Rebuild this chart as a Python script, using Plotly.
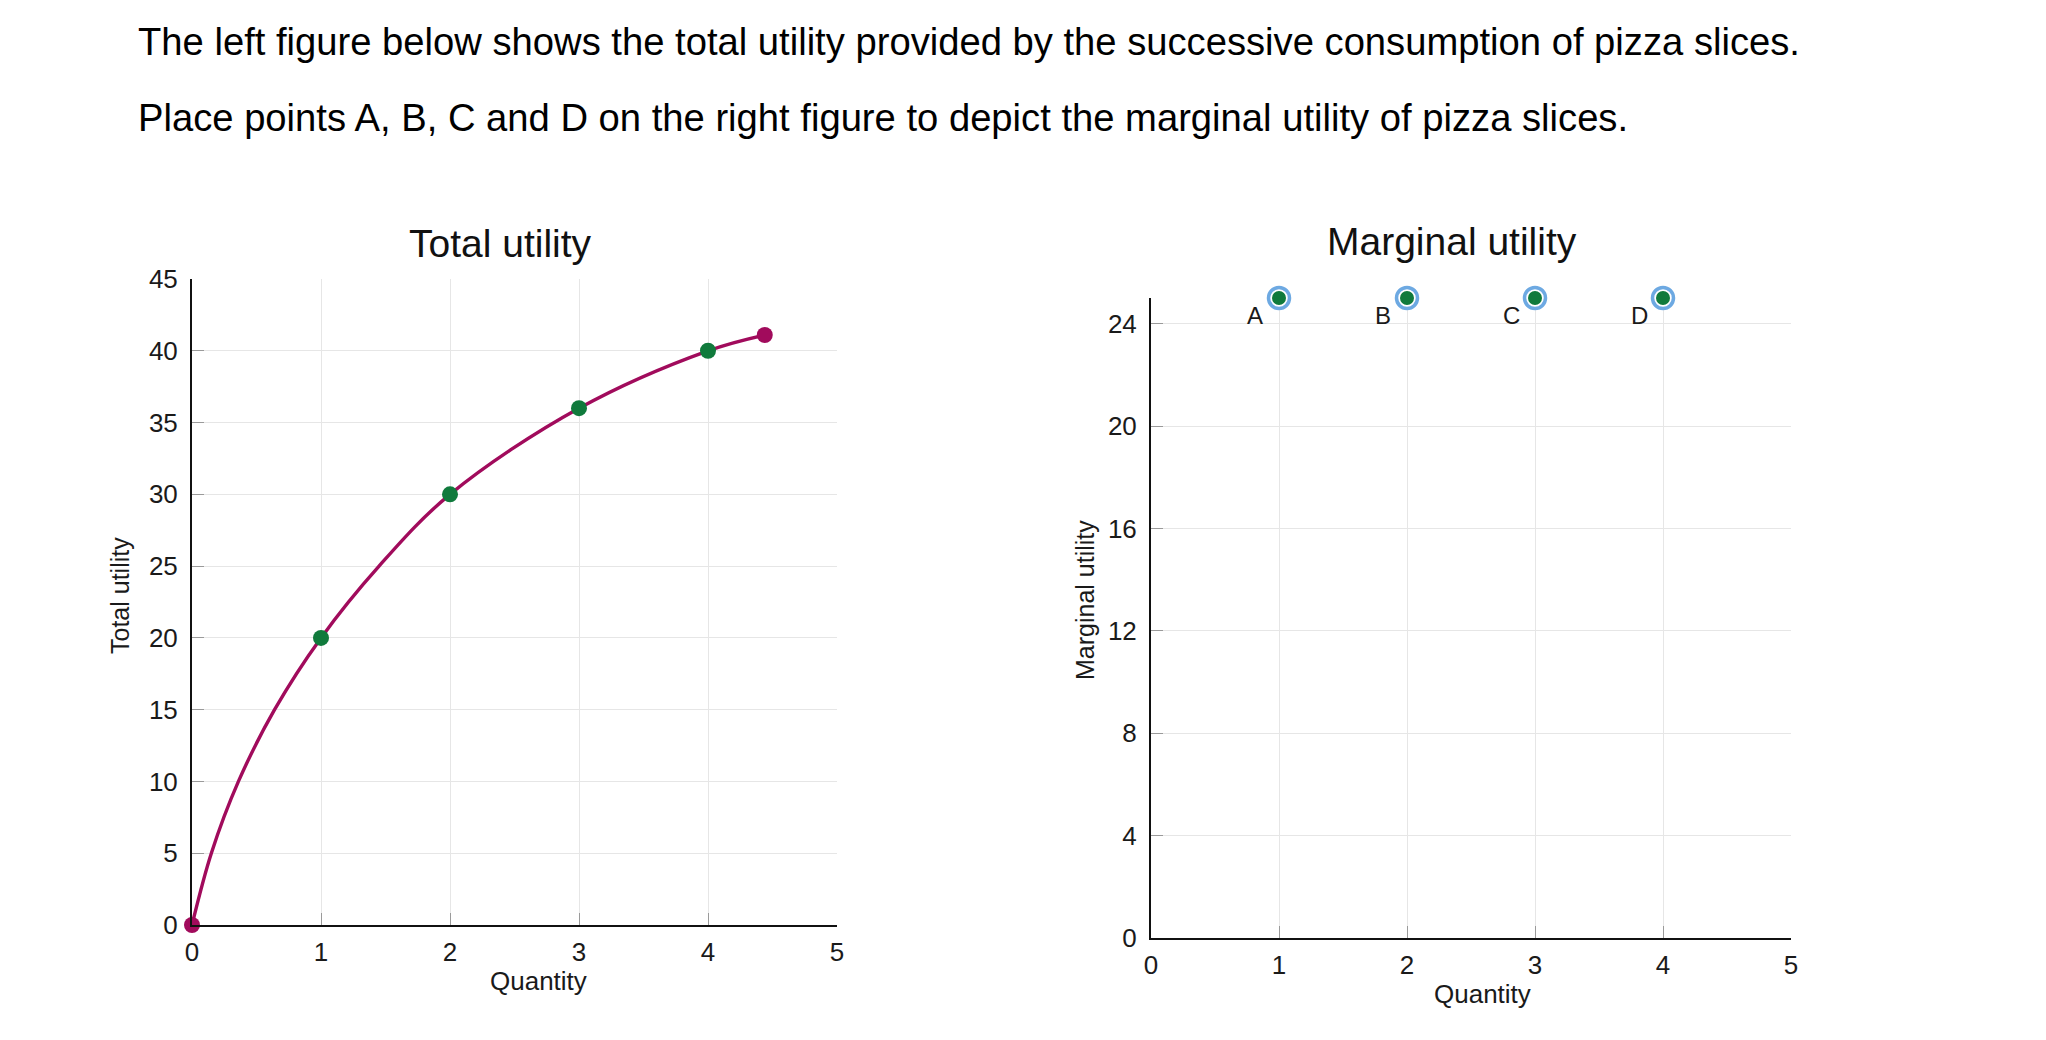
import plotly.graph_objects as go

# ---------------- data ----------------
# Total utility curve
curve_q = [0, 0.15, 0.36, 0.64, 1, 1.45, 2, 3, 4, 4.44]
curve_tu = [0, 5, 10, 15, 20, 25, 30, 36, 40, 41.1]
# Marked points on the total utility curve
tu_q = [0, 1, 2, 3, 4, 4.44]
tu_vals = [0, 20, 30, 36, 40, 41.1]
# Draggable marginal-utility points (initial placement at the top)
mu_q = [1, 2, 3, 4]
mu_vals = [25, 25, 25, 25]
mu_labels = ["A", "B", "C", "D"]

left_xticks = [0, 1, 2, 3, 4, 5]
left_yticks = [0, 5, 10, 15, 20, 25, 30, 35, 40, 45]
right_xticks = [0, 1, 2, 3, 4, 5]
right_yticks = [0, 4, 8, 12, 16, 20, 24]

header_lines = [
    "The left figure below shows the total utility provided by the successive consumption of pizza slices.",
    "Place points A, B, C and D on the right figure to depict the marginal utility of pizza slices.",
]

# ---------------- styling ----------------
MAGENTA = "#A10B5C"
GREEN = "#107A3C"
RING = "#6DA9E2"
FONT = "Liberation Sans, Arial, sans-serif"

W, H = 2046, 1040


def fx(px):
    return px / W


def fy(py):
    return 1 - py / H


fig = go.Figure()

fig.add_trace(go.Scatter(
    x=curve_q, y=curve_tu, mode="lines",
    line=dict(color=MAGENTA, width=3.4, shape="spline", smoothing=1.0),
    xaxis="x", yaxis="y", hoverinfo="skip", showlegend=False, cliponaxis=False))

fig.add_trace(go.Scatter(
    x=tu_q, y=tu_vals, mode="markers",
    marker=dict(size=16, color=[MAGENTA, GREEN, GREEN, GREEN, GREEN, MAGENTA]),
    xaxis="x", yaxis="y", showlegend=False, cliponaxis=False))

fig.add_trace(go.Scatter(
    x=mu_q, y=mu_vals, mode="markers",
    marker=dict(size=21, color="white", line=dict(color=RING, width=3.5)),
    xaxis="x2", yaxis="y2", showlegend=False, cliponaxis=False))

fig.add_trace(go.Scatter(
    x=mu_q, y=mu_vals, mode="markers",
    marker=dict(size=14, color=GREEN),
    xaxis="x2", yaxis="y2", showlegend=False, cliponaxis=False))

axis_common = dict(
    showgrid=True, gridcolor="#E6E6E6", gridwidth=1, zeroline=False,
    showline=True, linecolor="#111111", linewidth=2,
    ticks="inside", ticklen=12, tickcolor="#9A9A9A", tickwidth=1,
    tickfont=dict(size=26, color="#1A1A1A", family=FONT), fixedrange=True,
    automargin=False,
)
xaxis_common = dict(axis_common, ticklabelstandoff=3)
yaxis_common = dict(axis_common, ticklabelstandoff=7)

annotations = []
for i, line in enumerate(header_lines):
    annotations.append(dict(
        text=line, xref="paper", yref="paper", x=fx(136), y=fy([42, 117][i]),
        xanchor="left", yanchor="middle", showarrow=False,
        font=dict(size=38.2, color="#000000", family=FONT)))

annotations += [
    dict(text="Total utility", xref="paper", yref="paper", x=fx(500), y=fy(243),
         xanchor="center", yanchor="middle", showarrow=False,
         font=dict(size=39, color="#111111", family=FONT)),
    dict(text="Marginal utility", xref="paper", yref="paper", x=fx(1452), y=fy(241),
         xanchor="center", yanchor="middle", showarrow=False,
         font=dict(size=39, color="#111111", family=FONT)),
    dict(text="Total utility", xref="paper", yref="paper", x=fx(120), y=fy(596),
         xanchor="center", yanchor="middle", textangle=-90, showarrow=False,
         font=dict(size=25, color="#1A1A1A", family=FONT)),
    dict(text="Marginal utility", xref="paper", yref="paper", x=fx(1085), y=fy(600),
         xanchor="center", yanchor="middle", textangle=-90, showarrow=False,
         font=dict(size=25, color="#1A1A1A", family=FONT)),
    dict(text="Quantity", xref="paper", yref="paper", x=fx(538), y=fy(981),
         xanchor="center", yanchor="middle", showarrow=False,
         font=dict(size=26, color="#1A1A1A", family=FONT)),
    dict(text="Quantity", xref="paper", yref="paper", x=fx(1482), y=fy(994),
         xanchor="center", yanchor="middle", showarrow=False,
         font=dict(size=26, color="#1A1A1A", family=FONT)),
]
for q, v, lab in zip(mu_q, mu_vals, mu_labels):
    annotations.append(dict(
        text=lab, xref="x2", yref="y2", x=q, y=v, xshift=-24, yshift=-17,
        xanchor="center", yanchor="middle", showarrow=False,
        font=dict(size=24, color="#1A1A1A", family=FONT)))

fig.update_layout(
    width=W, height=H, autosize=False,
    margin=dict(l=0, r=0, t=0, b=0, pad=0, autoexpand=False),
    paper_bgcolor="white", plot_bgcolor="white",
    font=dict(family=FONT),
    showlegend=False,
    xaxis=dict(xaxis_common, domain=[fx(192), fx(837)], range=[0, 5],
               tickvals=left_xticks, anchor="y"),
    yaxis=dict(yaxis_common, domain=[fy(925), fy(279)], range=[0, 45],
               tickvals=left_yticks, anchor="x"),
    xaxis2=dict(xaxis_common, domain=[fx(1151), fx(1791)], range=[0, 5],
                tickvals=right_xticks, anchor="y2"),
    yaxis2=dict(yaxis_common, domain=[fy(938), fy(298)], range=[0, 25],
                tickvals=right_yticks, anchor="x2"),
    annotations=annotations,
)

fig.write_html(
    "out.html",
    config={"displayModeBar": False},
    post_script="document.body.style.margin='0';document.body.style.overflow='hidden';",
)
